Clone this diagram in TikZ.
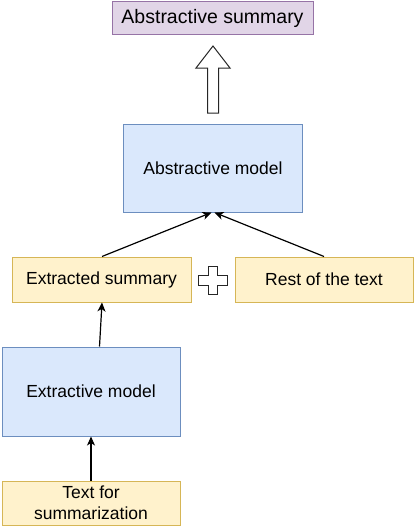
\documentclass[tikz,border=0pt]{standalone}
\usepackage{fontspec}
\setmainfont{Liberation Sans}
\usetikzlibrary{arrows.meta,calc}
\definecolor{purfill}{HTML}{E1D5E7}
\definecolor{purline}{HTML}{9673A6}
\definecolor{bluefill}{HTML}{DAE8FC}
\definecolor{blueline}{HTML}{6C8EBF}
\definecolor{yelfill}{HTML}{FFF2CC}
\definecolor{yelline}{HTML}{D6B656}
\begin{document}
\begin{tikzpicture}[x=1pt,y=-1pt,
  box/.style={draw, line width=1pt, inner sep=0pt, font=\fontsize{17.5}{21}\selectfont, align=center},
  purbox/.style={box, fill=purfill, draw=purline},
  bluebox/.style={box, fill=bluefill, draw=blueline},
  yelbox/.style={box, fill=yelfill, draw=yelline},
  conn/.style={line width=1.2pt, -{Stealth[length=9pt,width=8pt,inset=2.5pt]}},
  shapeline/.style={draw=black!85, line width=1pt, fill=white, line join=miter}
]
\useasboundingbox (0,0) rectangle (415,527);
\node[purbox, minimum width=201pt, minimum height=33pt, font=\fontsize{19.5}{23}\selectfont] (asum) at (212.5,18.5) {Abstractive summary};
\node[bluebox, minimum width=179pt, minimum height=88pt] (amod) at (213,168) {Abstractive model};
\node[yelbox, minimum width=179pt, minimum height=45pt] (esum) at (101.5,279.5) {Extracted summary};
\node[yelbox, minimum width=178pt, minimum height=45pt] (rest) at (324,279.5) {Rest of the text};
\node[bluebox, minimum width=178pt, minimum height=89pt] (emod) at (91,391.5) {Extractive model};
\node[yelbox, minimum width=178pt, minimum height=44pt] (text) at (91,503) {Text for\\summarization};
% block arrow
\coordinate (bt) at (213,46);
\draw[shapeline] (bt) -- (196,68) -- (207.5,68) -- (207.5,113) -- (218.5,113) -- (218.5,68) -- (230,68) -- cycle;
% plus
\coordinate (pc) at (213,280.5);
\draw[shapeline] ($(pc)+(-4.7,-14.2)$) -- ($(pc)+(4.7,-14.2)$) -- ($(pc)+(4.7,-4.7)$) -- ($(pc)+(14.2,-4.7)$) -- ($(pc)+(14.2,4.7)$) -- ($(pc)+(4.7,4.7)$) -- ($(pc)+(4.7,14.2)$) -- ($(pc)+(-4.7,14.2)$) -- ($(pc)+(-4.7,4.7)$) -- ($(pc)+(-14.2,4.7)$) -- ($(pc)+(-14.2,-4.7)$) -- ($(pc)+(-4.7,-4.7)$) -- cycle;
% connectors
\draw[conn] ([xshift=0.5pt]esum.north) -- ([xshift=-1.5pt]amod.south);
\draw[conn] (rest.north) -- ([xshift=1.5pt]amod.south);
\draw[conn] ([xshift=8.5pt]emod.north) -- ([xshift=0.5pt]esum.south);
\draw[conn] (text.north) -- (emod.south);
\end{tikzpicture}
\end{document}
